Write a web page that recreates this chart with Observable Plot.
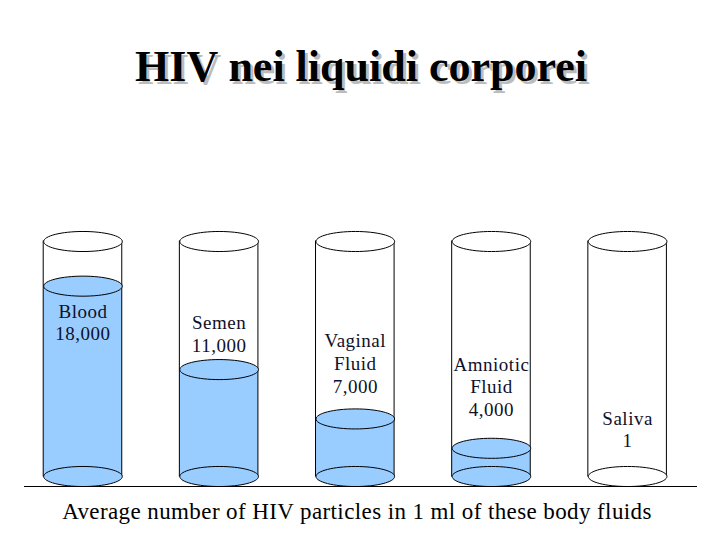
<!DOCTYPE html>
<html>
<head>
<meta charset="utf-8">
<script src="https://cdn.jsdelivr.net/npm/d3@7"></script>
<script src="https://cdn.jsdelivr.net/npm/@observablehq/plot@0.6"></script>
<style>
  html, body { margin: 0; padding: 0; background: #fff; }
  #wrap { position: relative; width: 720px; height: 540px; overflow: hidden; font-family: "Liberation Serif", "Times New Roman", serif; }
  #title { position: absolute; left: 0; width: 722px; top: 45px; text-align: center; font-size: 44px; line-height: 44px; font-weight: bold; color: #000; text-shadow: 3px 3px 0 #bcbcbc; white-space: nowrap; }
  #caption { position: absolute; left: 0; width: 714px; top: 500px; text-align: center; font-size: 23px; line-height: 23px; letter-spacing: 0.4px; color: #000; white-space: nowrap; }
  #chart { position: absolute; left: 0; top: 0; }
</style>
</head>
<body>
<div id="wrap">
  <div id="chart"></div>
  <div id="title">HIV nei liquidi corporei</div>
  <div id="caption">Average number of HIV particles in 1 ml of these body fluids</div>
</div>
<script>
// ---- data ----
const fluids = ["Blood", "Semen", "Vaginal Fluid", "Amniotic Fluid", "Saliva"];
const labels = ["Blood\n18,000", "Semen\n11,000", "Vaginal\nFluid\n7,000", "Amniotic\nFluid\n4,000", "Saliva\n1"];
const particles = [18000, 11000, 7000, 4000, 1];       // HIV particles per ml
const fillLevel = [81, 45.5, 24.5, 12, 0];              // fluid level drawn in each tube, % of tube height
const tubeFull = 100;                                   // tube height, %

const data = fluids.map((f, i) => ({
  fluid: f, label: labels[i], value: particles[i], level: fillLevel[i]
}));

// label anchor heights inside each tube (% of tube height)
const labelAt = [74.5, 69.5, 61.8, 52.0, 29.0];

// ellipse symbol for tube tops / fluid surfaces / bottoms
const ellipse = {
  draw(ctx, size) {
    const rx = Math.sqrt(size / Math.PI), ry = rx * 0.255, k = 0.5523;
    ctx.moveTo(-rx, 0);
    ctx.bezierCurveTo(-rx, -ry * k, -rx * k, -ry, 0, -ry);
    ctx.bezierCurveTo(rx * k, -ry, rx, -ry * k, rx, 0);
    ctx.bezierCurveTo(rx, ry * k, rx * k, ry, 0, ry);
    ctx.bezierCurveTo(-rx * k, ry, -rx, ry * k, -rx, 0);
    ctx.closePath();
  }
};

const blue = "#99ccff";
const R = 39.3;
const inset = 28.8;

const filled = data.filter(d => d.level > 0);
const empty = data.filter(d => d.level <= 0);

const chart = Plot.plot({
  width: 720,
  height: 540,
  marginTop: 241,
  marginBottom: 64,
  marginLeft: 24,
  marginRight: 23,
  style: { fontFamily: "Liberation Serif, Times New Roman, serif", background: "transparent" },
  x: { type: "band", domain: fluids, range: [14.4, 695.2], padding: 0, round: false, axis: null },
  y: { domain: [0, tubeFull], axis: null },
  marks: [
    // fluid body
    Plot.barY(data, { x: "fluid", y: "level", fill: blue, insetLeft: inset, insetRight: inset }),
    // tube outline
    Plot.barY(data, { x: "fluid", y: () => tubeFull, fill: "none", stroke: "black", strokeWidth: 1, insetLeft: inset, insetRight: inset }),
    // fluid surface
    Plot.dot(filled, { x: "fluid", y: "level", symbol: ellipse, r: R, fill: blue, stroke: "black", strokeWidth: 1 }),
    // tube bottoms
    Plot.dot(filled, { x: "fluid", y: () => 0, symbol: ellipse, r: R, fill: blue, stroke: "black", strokeWidth: 1 }),
    Plot.dot(empty, { x: "fluid", y: () => 0, symbol: ellipse, r: R, fill: "white", stroke: "black", strokeWidth: 1 }),
    // tube tops
    Plot.dot(data, { x: "fluid", y: () => tubeFull, symbol: ellipse, r: R, fill: "white", stroke: "black", strokeWidth: 1 }),
    // baseline
    Plot.ruleY([0], { dy: 10, stroke: "black", strokeWidth: 1.2 }),
    // labels
    Plot.text(data, { x: "fluid", y: (d, i) => labelAt[i], text: "label", lineAnchor: "top", lineHeight: 1.2, fontSize: 19, fill: "#10102a" })
  ]
});

chart.querySelectorAll("text").forEach(t => t.style.letterSpacing = "0.5px");
document.getElementById("chart").appendChild(chart);
</script>
</body>
</html>
